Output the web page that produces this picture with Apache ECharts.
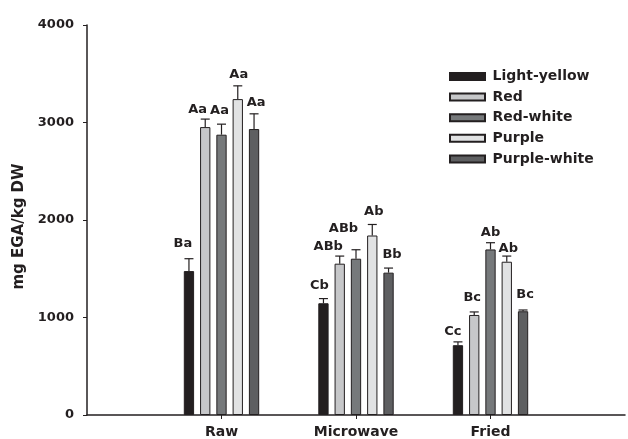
<!DOCTYPE html>
<html><head><meta charset="utf-8">
<script src="https://cdn.jsdelivr.net/npm/echarts@6/dist/echarts.min.js"></script>
<style>html,body{margin:0;padding:0;background:#fff}#c{width:628px;height:439px}</style>
</head><body><div id="c"></div>
<script>
// ---- data ----
const categories = ['Raw', 'Microwave', 'Fried'];
const seriesNames = ['Light-yellow', 'Red', 'Red-white', 'Purple', 'Purple-white'];
const lightYellow = [1476, 1146, 716];
const lightYellowErr = [127, 48, 34];
const lightYellowLabels = ['Ba', 'Cb', 'Cc'];
const red = [2953, 1552, 1026];
const redErr = [82, 78, 31];
const redLabels = ['Aa', 'ABb', 'Bc'];
const redWhite = [2875, 1603, 1698];
const redWhiteErr = [108, 92, 69];
const redWhiteLabels = ['Aa', 'ABb', 'Ab'];
const purple = [3240, 1841, 1572];
const purpleErr = [136, 113, 58];
const purpleLabels = ['Aa', 'Ab', 'Ab'];
const purpleWhite = [2933, 1460, 1064];
const purpleWhiteErr = [156, 47, 13];
const purpleWhiteLabels = ['Aa', 'Bb', 'Bc'];
const yTicks = [0, 1000, 2000, 3000, 4000];

// ---- layout / style ----
const colors = ['#231f20', '#c6c7c9', '#76797b', '#e1e2e3', '#5e5f61'];
const INK = '#231f20';
const FONT = 'DejaVu Sans';
const BAR_W = 10.3;
const BAR_GAP = 0.58;
const PITCH = BAR_W * (1 + BAR_GAP);
// label nudges [dx, gap above error cap] per series per category (layout only)
const labelNudge = [
  [[-6, 12], [-4, 9], [-5, 7]],
  [[-7.5, 6], [-11.5, 6], [-2, 11]],
  [[-2, 10], [-12.5, 18], [0, 7]],
  [[1, 8], [1.5, 9], [1.5, 3.5]],
  [[2, 8], [3.5, 10], [2, 12]]
];

const values = [lightYellow, red, redWhite, purple, purpleWhite];
const errs = [lightYellowErr, redErr, redWhiteErr, purpleErr, purpleWhiteErr];
const labels = [lightYellowLabels, redLabels, redWhiteLabels, purpleLabels, purpleWhiteLabels];

const axisCats = [''].concat(categories, ['']);

const barSeries = seriesNames.map((name, s) => ({
  name: name,
  type: 'bar',
  barWidth: BAR_W,
  barGap: (BAR_GAP * 100) + '%',
  data: ['-'].concat(values[s], ['-']),
  itemStyle: { color: colors[s], borderColor: INK, borderWidth: 1 },
  emphasis: { disabled: true },
  silent: true
}));

const errItems = [];
const errMeta = [];
values.forEach((vals, s) => {
  vals.forEach((v, c) => {
    errItems.push([c + 1, v, errs[s][c], s]);
    errMeta.push({ text: labels[s][c], nudge: labelNudge[s][c] });
  });
});

const errSeries = {
  type: 'custom',
  silent: true,
  z: 5,
  data: errItems,
  renderItem: function (params, api) {
    const cat = api.value(0), v = api.value(1), e = api.value(2), s = api.value(3);
    const base = api.coord([cat, v]);
    const top = api.coord([cat, v + e]);
    const x = base[0] + (s - 2) * PITCH;
    const meta = errMeta[params.dataIndex];
    return {
      type: 'group',
      children: [
        { type: 'line', shape: { x1: x, y1: base[1], x2: x, y2: top[1] }, style: { stroke: INK, lineWidth: 1.2 } },
        { type: 'line', shape: { x1: x - 4.5, y1: top[1], x2: x + 4.5, y2: top[1] }, style: { stroke: INK, lineWidth: 1.2 } },
        { type: 'text', x: x + meta.nudge[0], y: top[1] - meta.nudge[1] + 3,
          style: { text: meta.text, fill: INK, font: 'bold 13px "' + FONT + '"', align: 'center', verticalAlign: 'bottom' } }
      ]
    };
  }
};

const chart = echarts.init(document.getElementById('c'), null, { renderer: 'canvas' });
chart.setOption({
  animation: false,
  backgroundColor: '#fff',
  grid: { left: 87, top: 25, bottom: 23, right: -4.2, containLabel: false },
  legend: {
    orient: 'vertical',
    left: 449,
    top: 69.5,
    padding: 0,
    itemWidth: 35,
    itemHeight: 7,
    itemGap: 6.6,
    icon: 'rect',
    selectedMode: false,
    data: seriesNames,
    textStyle: { fontFamily: FONT, fontWeight: 'bold', fontSize: 14, color: INK, lineHeight: 14, padding: [0, 0, 0, 2.5] }
  },
  xAxis: {
    type: 'category',
    data: axisCats,
    boundaryGap: false,
    axisLine: { show: true, lineStyle: { color: INK, width: 1.5 } },
    axisTick: { show: true, length: 4, interval: function (i) { return i >= 1 && i <= categories.length; }, lineStyle: { color: INK } },
    axisLabel: { interval: 0, margin: 10, color: INK, fontFamily: FONT, fontWeight: 'bold', fontSize: 14 },
    splitLine: { show: false }
  },
  yAxis: {
    type: 'value',
    min: yTicks[0],
    max: yTicks[yTicks.length - 1],
    interval: yTicks[1] - yTicks[0],
    name: 'mg EGA/kg DW',
    nameLocation: 'middle',
    nameGap: 57,
    nameTextStyle: { fontFamily: FONT, fontWeight: 'bold', fontSize: 15, color: INK, padding: [0, 13, 0, 0] },
    axisLine: { show: true, lineStyle: { color: INK, width: 1.5 } },
    axisTick: { show: true, length: 4, lineStyle: { color: INK } },
    axisLabel: { margin: 13, color: INK, fontFamily: FONT, fontWeight: 'bold', fontSize: 13, formatter: function (v) { return String(v); } },
    splitLine: { show: false }
  },
  series: barSeries.concat([errSeries])
});
</script>
</body></html>
